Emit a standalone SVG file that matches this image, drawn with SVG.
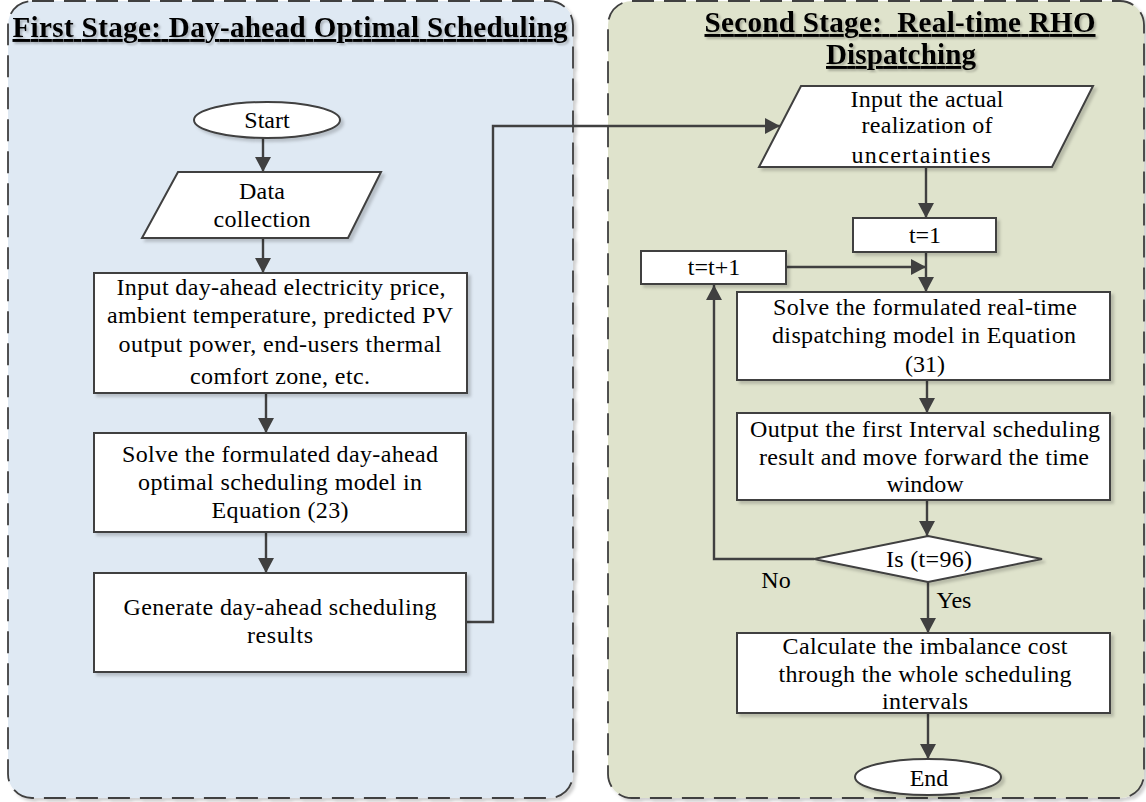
<svg xmlns="http://www.w3.org/2000/svg" width="1146" height="802" viewBox="0 0 1146 802">
<defs>
<filter id="sh" x="-10%" y="-10%" width="130%" height="130%">
<feDropShadow dx="3" dy="3" stdDeviation="1.5" flood-color="#000" flood-opacity="0.18"/>
</filter>
<filter id="tsh" x="-5%" y="-20%" width="110%" height="150%">
<feDropShadow dx="2" dy="2" stdDeviation="1" flood-color="#000" flood-opacity="0.25"/>
</filter>
<marker id="ah" markerUnits="userSpaceOnUse" markerWidth="15" markerHeight="16" viewBox="0 0 15 16" refX="15" refY="8" orient="auto">
<path d="M0,0 L15,8 L0,16 Z" fill="#404040"/>
</marker>
</defs>
<style>
.panel{stroke:#404040;stroke-width:1.8;stroke-dasharray:22 10;filter:url(#sh)}
.box{fill:#fff;stroke:#404040;stroke-width:2;filter:url(#sh)}
.t{font-family:"Liberation Serif","Times New Roman",serif;font-size:24px;fill:#000;text-anchor:middle}
.title{font-family:"Liberation Serif","Times New Roman",serif;font-size:29px;font-weight:bold;fill:#000;text-anchor:middle;text-decoration:underline;filter:url(#tsh)}
.ca{fill:none;stroke:#404040;stroke-width:2.4;marker-end:url(#ah)}
</style>
<g id="stage1">
<rect class="panel" x="8" y="1" width="565" height="797" rx="24" fill="#dfe9f3"/>
<text class="title" x="290" y="37" textLength="555" lengthAdjust="spacing">First Stage: Day-ahead Optimal Scheduling</text>
</g>
<g id="stage2">
<rect class="panel" x="608" y="1" width="536" height="797" rx="24" fill="#dfe3cc"/>
<text class="title" x="900" y="32" textLength="391" lengthAdjust="spacing" xml:space="preserve">Second Stage:  Real-time RHO</text>
<text class="title" x="901" y="64" textLength="150" lengthAdjust="spacing">Dispatching</text>
</g>
<g id="connectors">
<line class="ca" x1="263" y1="138" x2="263" y2="172"/>
<line class="ca" x1="263" y1="238" x2="263" y2="273"/>
<line class="ca" x1="266" y1="393" x2="266" y2="433"/>
<line class="ca" x1="266" y1="532" x2="266" y2="573"/>
<polyline class="ca" points="466,622 493,622 493,126 780,126"/>
<line class="ca" x1="926" y1="167" x2="926" y2="218"/>
<line class="ca" x1="926" y1="252" x2="926" y2="292"/>
<line class="ca" x1="786" y1="267" x2="926" y2="267"/>
<line class="ca" x1="927" y1="380" x2="927" y2="413"/>
<line class="ca" x1="927" y1="500" x2="927" y2="536"/>
<polyline class="ca" points="814,559 714,559 714,285"/>
<line class="ca" x1="928" y1="582" x2="928" y2="633"/>
<line class="ca" x1="928" y1="713" x2="928" y2="759"/>
<text class="t" x="776" y="588">No</text>
<text class="t" x="954" y="608">Yes</text>
</g>
<g id="start">
<ellipse class="box" cx="267" cy="120" rx="73" ry="18"/>
<text class="t" x="267" y="128">Start</text>
</g>
<g id="data">
<polygon class="box" points="178,172 381,172 348,238 142,238"/>
<text class="t" x="262" y="199" textLength="46" lengthAdjust="spacing">Data</text>
<text class="t" x="262" y="227" textLength="97" lengthAdjust="spacing">collection</text>
</g>
<g id="input">
<rect class="box" x="94" y="273" width="373" height="120"/>
<text class="t" x="281" y="295" textLength="329" lengthAdjust="spacing">Input day-ahead electricity price,</text>
<text class="t" x="280" y="323" textLength="346" lengthAdjust="spacing">ambient temperature, predicted PV</text>
<text class="t" x="280" y="352" textLength="323" lengthAdjust="spacing">output power, end-users thermal</text>
<text class="t" x="280" y="384" textLength="180" lengthAdjust="spacing">comfort zone, etc.</text>
</g>
<g id="solve1">
<rect class="box" x="94" y="433" width="372" height="99"/>
<text class="t" x="280" y="462" textLength="316" lengthAdjust="spacing">Solve the formulated day-ahead</text>
<text class="t" x="280" y="490" textLength="284" lengthAdjust="spacing">optimal scheduling model in</text>
<text class="t" x="280" y="518" textLength="137" lengthAdjust="spacing">Equation (23)</text>
</g>
<g id="generate">
<rect class="box" x="94" y="573" width="372" height="99"/>
<text class="t" x="280" y="615" textLength="313" lengthAdjust="spacing">Generate day-ahead scheduling</text>
<text class="t" x="280" y="643" textLength="66" lengthAdjust="spacing">results</text>
</g>
<g id="input2">
<polygon class="box" points="801,86 1093,86 1052,167 759,167"/>
<text class="t" x="927" y="107" textLength="153" lengthAdjust="spacing">Input the actual</text>
<text class="t" x="927" y="133" textLength="131" lengthAdjust="spacing">realization of</text>
<text class="t" x="921" y="163" textLength="139" lengthAdjust="spacing">uncertainties</text>
</g>
<g id="t1">
<rect class="box" x="853" y="218" width="143" height="34"/>
<text class="t" x="925" y="243">t=1</text>
</g>
<g id="tinc">
<rect class="box" x="641" y="251" width="145" height="33"/>
<text class="t" x="714" y="275">t=t+1</text>
</g>
<g id="solve2">
<rect class="box" x="737" y="292" width="373" height="88"/>
<text class="t" x="925" y="315" textLength="304" lengthAdjust="spacing">Solve the formulated real-time</text>
<text class="t" x="924" y="343" textLength="304" lengthAdjust="spacing">dispatching model in Equation</text>
<text class="t" x="925" y="372">(31)</text>
</g>
<g id="output">
<rect class="box" x="737" y="413" width="373" height="87"/>
<text class="t" x="925" y="437" textLength="350" lengthAdjust="spacing">Output the first Interval scheduling</text>
<text class="t" x="924" y="465" textLength="330" lengthAdjust="spacing">result and move forward the time</text>
<text class="t" x="925" y="492" textLength="77" lengthAdjust="spacing">window</text>
</g>
<g id="decision">
<polygon class="box" points="928,536 1042,559 928,582 814,559"/>
<text class="t" x="929" y="567" textLength="86" lengthAdjust="spacing">Is (t=96)</text>
</g>
<g id="calc">
<rect class="box" x="737" y="633" width="373" height="80"/>
<text class="t" x="925" y="654" textLength="285" lengthAdjust="spacing">Calculate the imbalance cost</text>
<text class="t" x="925" y="682" textLength="293" lengthAdjust="spacing">through the whole scheduling</text>
<text class="t" x="925" y="709" textLength="86" lengthAdjust="spacing">intervals</text>
</g>
<g id="end">
<ellipse class="box" cx="928" cy="777" rx="73" ry="18"/>
<text class="t" x="929" y="786">End</text>
</g>
</svg>
